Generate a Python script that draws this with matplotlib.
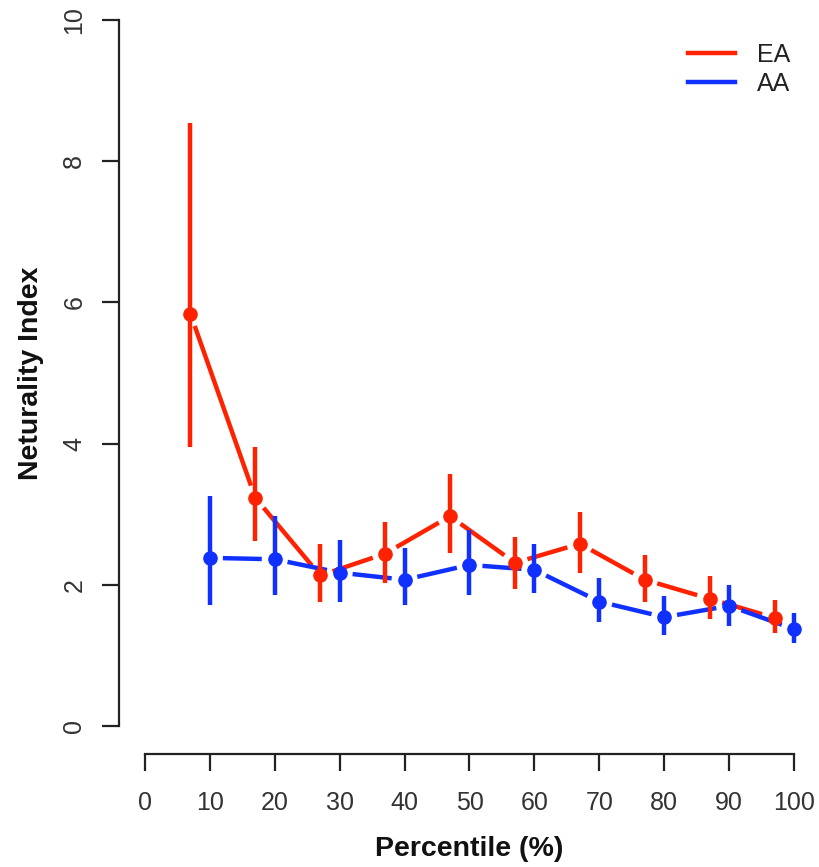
import matplotlib
matplotlib.use("Agg")
import matplotlib.pyplot as plt
from matplotlib.lines import Line2D
import numpy as np

# Data
ea_x = [7, 17, 27, 37, 47, 57, 67, 77, 87, 97]
ea_y = [5.84, 3.23, 2.13, 2.44, 2.97, 2.31, 2.58, 2.07, 1.80, 1.53]
ea_hi = [8.55, 3.95, 2.58, 2.89, 3.57, 2.68, 3.03, 2.42, 2.12, 1.78]
ea_lo = [3.95, 2.62, 1.76, 2.03, 2.45, 1.94, 2.17, 1.76, 1.52, 1.32]

aa_x = [10, 20, 30, 40, 50, 60, 70, 80, 90, 100]
aa_y = [2.38, 2.36, 2.17, 2.07, 2.28, 2.21, 1.76, 1.54, 1.70, 1.37]
aa_hi = [3.26, 2.97, 2.63, 2.52, 2.78, 2.58, 2.10, 1.84, 2.00, 1.60]
aa_lo = [1.71, 1.86, 1.76, 1.71, 1.86, 1.88, 1.47, 1.28, 1.42, 1.18]

x_ticks = [0, 10, 20, 30, 40, 50, 60, 70, 80, 90, 100]
y_ticks = [0, 2, 4, 6, 8, 10]

RED = "#ff2200"
BLUE = "#1030ff"

plt.rcParams['font.family'] = ['Liberation Sans', 'DejaVu Sans']

W, H = 820, 867
fig = plt.figure(figsize=(W / 100, H / 100), dpi=100)
ax = fig.add_axes([119 / W, (H - 754) / H, (820 - 119) / W, (754 + 8) / H])
ax.set_xlim(-4, 104)
ax.set_ylim(-0.4, 10.4)
fig.canvas.draw()


def gapped_segments(xs, ys, gap_px=13):
    """Line segments between points, shortened by gap_px at each end (R type='b')."""
    trans = ax.transData
    inv = trans.inverted()
    pts = trans.transform(np.column_stack([xs, ys]))
    segs = []
    for p0, p1 in zip(pts[:-1], pts[1:]):
        d = p1 - p0
        L = np.hypot(*d)
        if L <= 2 * gap_px:
            continue
        u = d / L
        a = inv.transform(p0 + u * gap_px)
        b = inv.transform(p1 - u * gap_px)
        segs.append((a, b))
    return segs


for xs, ys, lo, hi, col in [(ea_x, ea_y, ea_lo, ea_hi, RED),
                            (aa_x, aa_y, aa_lo, aa_hi, BLUE)]:
    for a, b in gapped_segments(xs, ys):
        ax.plot([a[0], b[0]], [a[1], b[1]], color=col, lw=3.2,
                solid_capstyle='butt', zorder=2)
    ax.vlines(xs, lo, hi, color=col, lw=3.2, zorder=3)
    ax.plot(xs, ys, 'o', color=col, ms=9.5, mec=col, zorder=4)

# axes styling (R-like)
for s in ['top', 'right']:
    ax.spines[s].set_visible(False)
ax.spines['left'].set_bounds(0, 10)
ax.spines['bottom'].set_bounds(0, 100)
for s in ['left', 'bottom']:
    ax.spines[s].set_linewidth(1.6)
    ax.spines[s].set_color('#222222')

ax.set_xticks(x_ticks)
ax.set_xticklabels([str(v) for v in x_ticks])
ax.set_yticks(y_ticks)
ax.set_yticklabels([str(v) for v in y_ticks], rotation=90, va='center')
ax.tick_params(axis='both', direction='out', length=12.5, width=1.6,
               color='#222222', labelsize=18, labelcolor='#333333')
ax.tick_params(axis='x', pad=14)
ax.tick_params(axis='y', pad=11)

ax.set_xlabel("Percentile (%)", fontsize=20.5, fontweight='bold', labelpad=15,
              color='#111111')
ax.set_ylabel("Neturality Index", fontsize=20.5, fontweight='bold', labelpad=13,
              color='#111111')

handles = [Line2D([], [], color=RED, lw=3.2), Line2D([], [], color=BLUE, lw=3.2)]
leg = fig.legend(handles, ["EA", "AA"], loc='upper right', frameon=False,
                 fontsize=18, handlelength=1.9, handletextpad=0.85,
                 labelspacing=0.2, borderpad=0, borderaxespad=0,
                 bbox_to_anchor=(790 / W, 1 - 43 / H),
                 bbox_transform=fig.transFigure)
for t in leg.get_texts():
    t.set_color('#222222')

fig.savefig("out.png", dpi=100)
